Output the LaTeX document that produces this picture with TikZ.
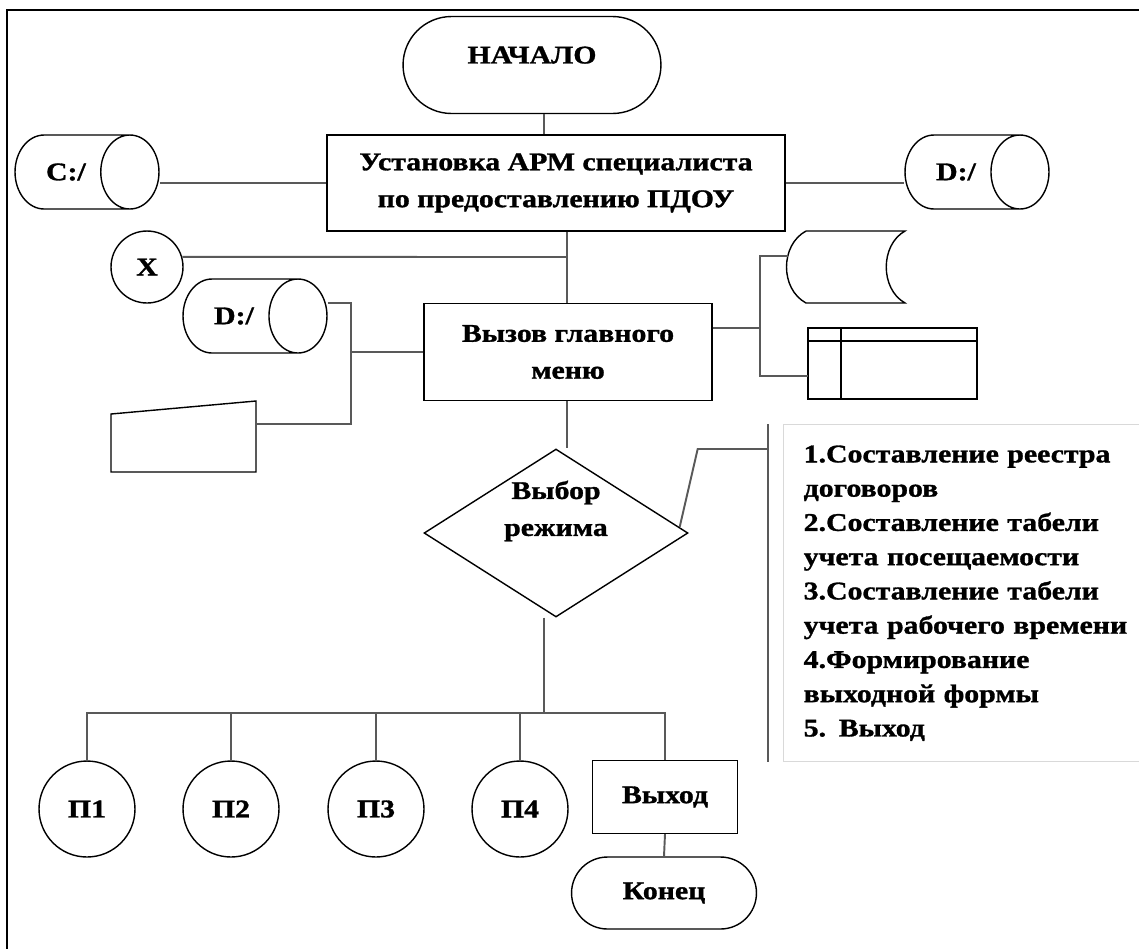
\documentclass[tikz,border=0pt]{standalone}
\usepackage{fontspec}
\setmainfont{Liberation Serif}[BoldFeatures={FakeBold=1.2, FakeStretch=1.17}]
\usetikzlibrary{shapes.geometric,shapes.misc}

\tikzset{
  shp/.style={draw, line width=0.8pt, font=\bfseries\fontsize{14.5}{21}\selectfont, align=center, inner sep=2pt},
  term/.style={shp, rounded rectangle},
  proc/.style={shp, rectangle},
  disk/.style={shp, cylinder, anchor=shape center, shape aspect=2.4, minimum width=1.48cm, minimum height=2.88cm},
  conn/.style={shp, circle},
  link/.style={draw=black!65, line width=1.1pt},
}

\begin{document}
\begin{tikzpicture}[x=0.02cm, y=-0.02cm]
  \useasboundingbox (0,0) rectangle (1139,948);
  \clip (0,0) rectangle (1139,948);
  \draw[line width=1.3pt] (7,10) rectangle (1170,980);

  % main column
  \node[term, minimum width=5.3cm, minimum height=1.94cm, text depth=0.4cm] (start) at (532,65) {НАЧАЛО};
  \node[proc, minimum width=9.16cm, minimum height=1.92cm] (install) at (556,183) {Установка АРМ специалиста\\по предоставлению ПДОУ};
  \node[proc, minimum width=5.76cm, minimum height=1.94cm] (menu) at (568,352) {Вызов главного\\меню};
  \node[shp, diamond, minimum width=5.28cm, minimum height=3.36cm, inner sep=0pt,
        label={[font=\bfseries\fontsize{14.5}{21}\selectfont, align=center, yshift=0.44cm]center:Выбор\\режима}] (mode) at (556,533) {};

  % disks and connector
  \node[disk] (cylc) at (87,172) {C:/};
  \node[disk] (cyld) at (977,172) {D:/};
  \node[disk] (cyldd) at (255,316) {D:/};
  \node[conn, minimum size=1.44cm] (circx) at (147,267) {X};

  % shapes drawn directly
  \draw[line width=0.8pt] (111,414) -- (256,401) -- (256,472) -- (111,472) -- cycle;
  \draw[line width=0.8pt] (806,231) -- (905,231) .. controls (880,245) and (880,289) .. (905,303)
    -- (806,303) .. controls (780,289) and (780,245) .. (806,231);
  \draw[line width=0.8pt] (808,328) rectangle (977,399);
  \draw[line width=0.8pt] (808,341) -- (977,341);
  \draw[line width=0.8pt] (841,328) -- (841,399);
  \coordinate (input) at (256,424);
  \coordinate (stor) at (788,256);
  \coordinate (tbl) at (808,376);

  % modes list
  \node[draw=black!15, line width=0.8pt, anchor=north west, minimum width=7.6cm, minimum height=6.74cm,
        text width=6.8cm, inner xsep=0.4cm, align=left,
        font=\bfseries\fontsize{14.5}{19.5}\selectfont] (modes) at (783,424)
    {1.Составление реестра\\договоров\\2.Составление табели\\учета посещаемости\\3.Составление табели\\учета рабочего времени\\4.Формирование\\выходной формы\\5. Выход};

  % bottom row
  \foreach \i/\x in {1/87, 2/231, 3/376, 4/520}
    \node[conn, minimum size=1.92cm] (p\i) at (\x,809) {П\i};
  \node[proc, minimum width=2.9cm, minimum height=1.46cm] (quit) at (665,797) {Выход};
  \node[term, minimum width=3.84cm, minimum height=1.44cm] (finish) at (664,893) {Конец};

  % bus points
  \coordinate (trunk) at (567,257);
  \coordinate (lbus) at (351,352);
  \coordinate (rbus) at (760,328);
  \coordinate (brk) at (768,449);
  \coordinate (bus) at (544,713);

  % connectors
  \draw[link] (start.south) ++(12,0) coordinate (s1) -- (s1 |- install.north);
  \draw[link] (install.west -| cylc.east) -- (install.west);
  \draw[link] (install.east) -- (install.east -| cyld.west);
  \draw[link] (install.south -| trunk) -- (menu.north -| trunk);
  \draw[link] (circx.16) -- (trunk);
  \draw[link] (cyldd.east) ++(0,-13) coordinate (d1) -| (input -| lbus) -- (input);
  \draw[link] (menu.west) -- (lbus);
  \draw[link] (menu.east |- rbus) -- (rbus);
  \draw[link] (stor) -| (rbus) |- (tbl);
  \draw[link] (menu.south -| trunk) -- (mode.north -| trunk);
  \draw[link] (mode.east) ++(-9,-6) coordinate (m1) -- ++(18,-78) -- (brk);
  \draw[link] ([xshift=-0.3cm]modes.north west) -- ([xshift=-0.3cm]modes.south west);
  \draw[link] (mode.south -| bus) -- (bus);
  \draw[link] (p1.north) |- (quit.north |- bus) -- (quit.north);
  \foreach \i in {2,3,4}
    \draw[link] (p\i.north) -- (p\i.north |- bus);
  \draw[link] (quit.south) -- (finish.north);
\end{tikzpicture}
\end{document}
